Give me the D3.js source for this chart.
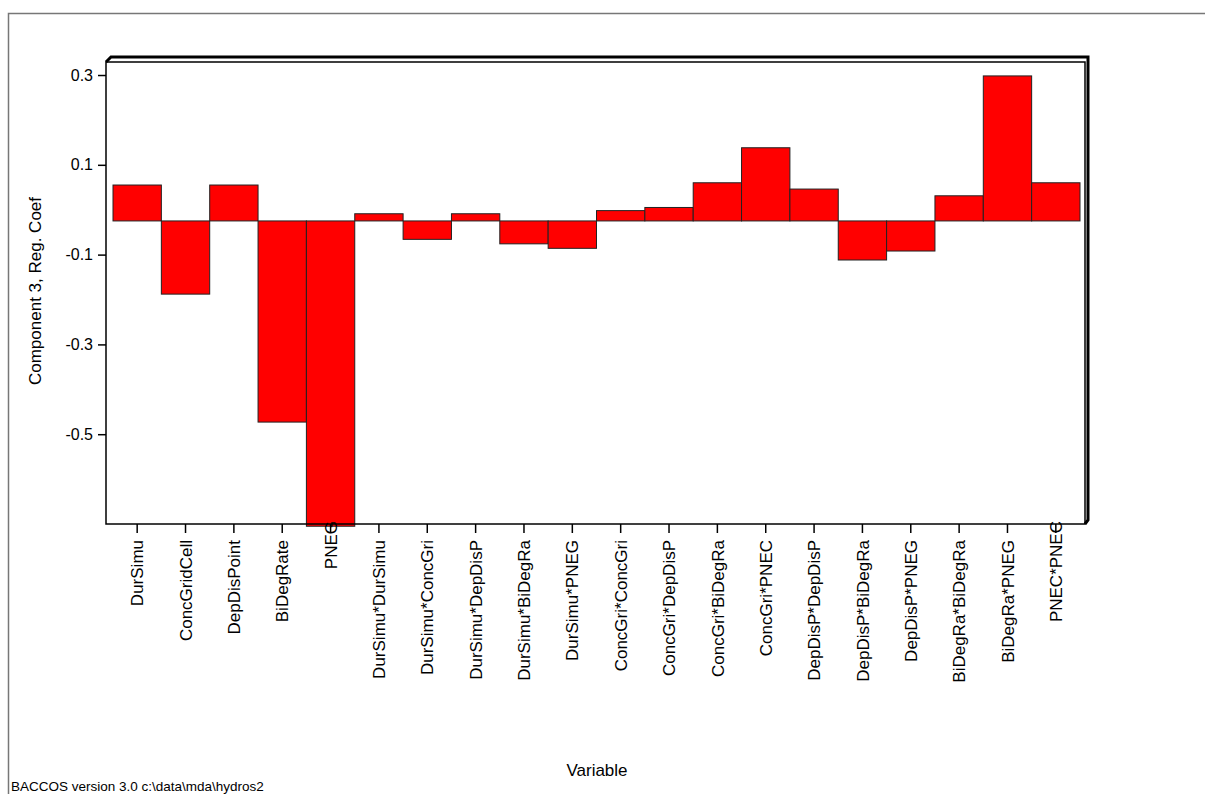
<!DOCTYPE html>
<html>
<head>
<meta charset="utf-8">
<script src="https://cdn.jsdelivr.net/npm/d3@7"></script>
<style>
  html, body { margin: 0; padding: 0; background: #fff; }
  svg { display: block; font-family: "Liberation Sans", Arial, sans-serif; }
</style>
</head>
<body>
<svg id="chart" width="1205" height="794"></svg>
<script>
// Regression coefficients of component 3 per model term
const variables = [
  "DurSimu", "ConcGridCell", "DepDisPoint", "BiDegRate", "PNEG",
  "DurSimu*DurSimu", "DurSimu*ConcGri", "DurSimu*DepDisP", "DurSimu*BiDegRa", "DurSimu*PNEG",
  "ConcGri*ConcGri", "ConcGri*DepDisP", "ConcGri*BiDegRa", "ConcGri*PNEC", "DepDisP*DepDisP",
  "DepDisP*BiDegRa", "DepDisP*PNEG", "BiDegRa*BiDegRa", "BiDegRa*PNEG", "PNEC*PNEC"
];
const coefficients = [
  0.080, -0.163, 0.080, -0.448, -0.680,
  0.016, -0.041, 0.016, -0.051, -0.061,
  0.023, 0.030, 0.085, 0.163, 0.071,
  -0.087, -0.067, 0.056, 0.323, 0.085
];
// Axis range and tick positions (labels rounded to one decimal)
const yDomain = [-0.675, 0.354];
const yTickValues = [-0.475, -0.275, -0.075, 0.125, 0.325];
const yTickLabels = ["-0.5", "-0.3", "-0.1", "0.1", "0.3"];

// Term names that the plotting program pushed up against the axis line
const raisedLabels = ["PNEG", "PNEC*PNEC"];

const svg = d3.select("#chart");

// Page border
svg.append("path")
  .attr("d", "M8.5,794 V13.5 H1205")
  .attr("fill", "none").attr("stroke", "#777").attr("stroke-width", 1.5);

const frame = { left: 106, right: 1085, top: 62, bottom: 524 };

const x = d3.scaleBand().domain(variables).range([113, 1080]).padding(0);
const y = d3.scaleLinear().domain(yDomain).range([frame.bottom, frame.top]);

// Shadow edges of the plot box
svg.append("path")
  .attr("d", `M${frame.left},${frame.top} L${frame.left + 5},${frame.top - 5} H${frame.right + 3} V${frame.bottom - 4} L${frame.right},${frame.bottom}`)
  .attr("fill", "none").attr("stroke", "#000").attr("stroke-width", 3);

// Bars
svg.append("g").selectAll("rect")
  .data(coefficients)
  .join("rect")
  .attr("x", (d, i) => x(variables[i]))
  .attr("width", x.bandwidth())
  .attr("y", d => y(Math.max(0, d)))
  .attr("height", d => Math.abs(y(d) - y(0)))
  .attr("fill", "#ff0000")
  .attr("stroke", "#222")
  .attr("stroke-width", 1);

// Plot box
svg.append("rect")
  .attr("x", frame.left).attr("y", frame.top)
  .attr("width", frame.right - frame.left).attr("height", frame.bottom - frame.top)
  .attr("fill", "none").attr("stroke", "#000").attr("stroke-width", 1.5);

// Y axis
const yAxis = svg.append("g")
  .attr("transform", `translate(${frame.left},0)`)
  .call(d3.axisLeft(y).tickValues(yTickValues).tickSize(8)
    .tickFormat((d, i) => yTickLabels[i]));
yAxis.select(".domain").remove();
yAxis.selectAll(".tick line").attr("stroke", "#000").attr("stroke-width", 1.5);
yAxis.selectAll(".tick text")
  .attr("x", -13)
  .attr("font-size", 16).attr("fill", "#000")
  .attr("font-family", "Liberation Sans, Arial, sans-serif");

// X axis with rotated term names
const xAxis = svg.append("g")
  .attr("transform", `translate(0,${frame.bottom})`)
  .call(d3.axisBottom(x).tickSize(9).tickSizeOuter(0));
xAxis.select(".domain").remove();
xAxis.selectAll(".tick line").attr("stroke", "#000").attr("stroke-width", 1.5);
xAxis.selectAll(".tick text")
  .attr("transform", "rotate(-90)")
  .attr("x", d => raisedLabels.includes(d) ? 3 : -16)
  .attr("y", 0).attr("dy", "0.36em")
  .attr("text-anchor", "end")
  .attr("font-size", 17).attr("fill", "#000")
  .attr("font-family", "Liberation Sans, Arial, sans-serif");

// Axis titles
svg.append("text")
  .attr("transform", "translate(41,291) rotate(-90)")
  .attr("text-anchor", "middle")
  .attr("font-size", 17)
  .text("Component 3, Reg. Coef");

svg.append("text")
  .attr("x", 597).attr("y", 776)
  .attr("text-anchor", "middle")
  .attr("font-size", 17)
  .text("Variable");

// Footer
svg.append("text")
  .attr("x", 11).attr("y", 791)
  .attr("font-size", 13.5)
  .text("BACCOS version 3.0 c:\\data\\mda\\hydros2");
</script>
</body>
</html>
